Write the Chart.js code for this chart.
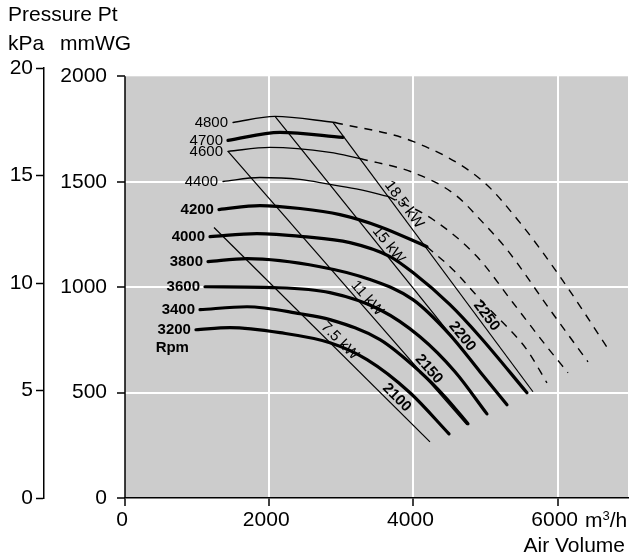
<!DOCTYPE html>
<html>
<head>
<meta charset="utf-8">
<script src="https://cdn.jsdelivr.net/npm/chart.js@4.4.1/dist/chart.umd.min.js"></script>
<style>
  html, body { margin: 0; padding: 0; background: #fff; }
  #wrap { position: relative; width: 629px; height: 560px; font-family: "Liberation Sans", Arial, sans-serif; color: #000; }
  #fanChart { position: absolute; left: 0; top: 0; }
  .t { position: absolute; font-size: 21px; line-height: 21px; white-space: nowrap; }
</style>
</head>
<body>
<div id="wrap">
  <canvas id="fanChart" width="629" height="560"></canvas>
  <span class="t" style="left:8px;top:3px">Pressure Pt</span>
  <span class="t" style="left:8px;top:32px">kPa</span>
  <span class="t" style="left:60px;top:32px">mmWG</span>
  <span class="t" style="left:585px;top:509px">m<sup style="font-size:13px;vertical-align:7px;line-height:0">3</sup>/h</span>
  <span class="t" style="right:4px;top:534px">Air Volume</span>
</div>
<script>
const FONT = "'Liberation Sans', Arial, Helvetica, sans-serif";

const xTicks = [0, 2000, 4000, 6000];
const mmwgTicks = [0, 500, 1000, 1500, 2000];
const kpaTicks = [0, 5, 10, 15, 20];

// fan curves: [air volume m3/h, pressure mmWG]
const rpm3200 = [[984, 798], [1456, 808], [2149, 784], [2842, 736], [3356, 656], [3952, 499], [4493, 304]];
const rpm3400 = [[1040, 893], [1692, 907], [2427, 874], [2842, 846], [3536, 751], [4090, 599], [4437, 480], [4756, 352]];
const rpm3600 = [[1109, 1002], [2052, 998], [2842, 974], [3536, 893], [4090, 765], [4576, 599], [5019, 399]];
const rpm3800 = [[1151, 1121], [1692, 1135], [2704, 1097], [3397, 1036], [3993, 941], [4506, 774], [4922, 599], [5297, 442]];
const rpm4000 = [[1179, 1240], [1830, 1254], [2468, 1240], [3120, 1211], [3675, 1145], [3993, 1069], [4506, 917], [4922, 765], [5574, 499]];
const rpm4200 = [[1303, 1368], [1872, 1387], [2427, 1373], [2981, 1344], [3536, 1287], [4187, 1192]];
const rpm4400 = [[1359, 1501], [1872, 1520], [2427, 1511], [2842, 1487], [3258, 1463], [3647, 1430]];
const rpm4600 = [[1428, 1644], [2011, 1663], [2842, 1639], [3258, 1610]];
const rpm4700 = [[1428, 1696], [2149, 1734], [3023, 1710]];
const rpm4800 = [[1498, 1781], [2080, 1810], [2912, 1781]];

const rpmLabels = ['3200', '3400', '3600', '3800', '4000', '4200', '4400', '4600', '4700', '4800'];
const rpmCurves = [rpm3200, rpm3400, rpm3600, rpm3800, rpm4000, rpm4200, rpm4400, rpm4600, rpm4700, rpm4800];
const thinCurves = ['4400', '4600', '4800'];

// dashed continuations past the 18.5 kW line
const dash4200 = [[4187, 1192], [4548, 1083], [5019, 907], [5297, 812], [5574, 703], [5851, 546]];
const dash4400 = [[3647, 1430], [4271, 1321], [4881, 1145], [5380, 926], [5851, 717], [6143, 594]];
const dash4600 = [[3258, 1610], [3993, 1544], [4576, 1439], [4964, 1306], [5297, 1178], [5893, 893], [6420, 646]];
const dash4800 = [[2912, 1781], [3993, 1691], [4950, 1506], [5477, 1306], [6032, 1050], [6725, 694]];
const dashCurves = [dash4200, dash4400, dash4600, dash4800];

// motor power lines
const kw75 = [[1234, 1283], [4229, 266]];
const kw11 = [[1428, 1644], [4742, 347]];
const kw15 = [[2080, 1810], [5297, 442]];
const kw185 = [[2884, 1781], [5657, 504]];
const kwLines = [kw75, kw11, kw15, kw185];
const kwLabels = ['7.5 kW', '11 kW', '15 kW', '18.5 kW'];
const limitLabels = ['2100', '2150', '2200', '2250'];
const kwLabelAt = [0.556, 0.557, 0.463, 0.323];
const limitLabelAt = [0.82, 0.815, 0.78, 0.736];

const toPts = arr => arr.map(([x, y]) => ({ x, y }));

const datasets = [];
rpmCurves.forEach((c, i) => {
  const thin = thinCurves.includes(rpmLabels[i]);
  datasets.push({
    data: toPts(c), showLine: true, borderColor: '#000',
    borderWidth: thin ? 1.3 : 3.2, pointRadius: 0,
    cubicInterpolationMode: 'monotone', borderCapStyle: 'round'
  });
});
dashCurves.forEach(c => {
  datasets.push({
    data: toPts(c), showLine: true, borderColor: '#000', borderWidth: 1.4,
    borderDash: [8, 7], pointRadius: 0, cubicInterpolationMode: 'monotone'
  });
});
kwLines.forEach(c => {
  datasets.push({
    data: toPts(c), showLine: true, borderColor: '#000', borderWidth: 1.2,
    pointRadius: 0, tension: 0
  });
});

const overlay = {
  id: 'overlay',
  beforeDraw(chart) {
    const { ctx, chartArea: a, scales: { y } } = chart;
    const top = y.getPixelForValue(mmwgTicks[mmwgTicks.length - 1]);
    ctx.save();
    ctx.fillStyle = '#cccccc';
    ctx.fillRect(a.left, top, a.right - a.left, y.getPixelForValue(0) - top);
    ctx.restore();
  },
  beforeDatasetsDraw(chart) {
    const { ctx, chartArea: a, scales: { y } } = chart;
    ctx.save();
    ctx.strokeStyle = '#000';
    ctx.lineWidth = 1.5;
    ctx.beginPath();
    ctx.moveTo(a.left, y.getPixelForValue(mmwgTicks[mmwgTicks.length - 1]));
    ctx.lineTo(a.left, y.getPixelForValue(0));
    ctx.stroke();
    ctx.restore();
  },
  afterDatasetsDraw(chart) {
    const { ctx, scales: { x, y } } = chart;
    ctx.save();
    ctx.fillStyle = '#000';
    ctx.textAlign = 'right';
    ctx.textBaseline = 'middle';
    rpmCurves.forEach((c, i) => {
      const bold = Number(rpmLabels[i]) <= 4200;
      ctx.font = (bold ? 'bold ' : '') + '15px ' + FONT;
      ctx.fillText(rpmLabels[i], x.getPixelForValue(c[0][0]) - 5, y.getPixelForValue(c[0][1]));
    });
    ctx.font = 'bold 15px ' + FONT;
    ctx.fillText('Rpm', x.getPixelForValue(rpm3200[0][0]) - 7, y.getPixelForValue(rpm3200[0][1]) + 18);

    ctx.textAlign = 'center';
    kwLines.forEach((line, i) => {
      const x0 = x.getPixelForValue(line[0][0]), y0 = y.getPixelForValue(line[0][1]);
      const x1 = x.getPixelForValue(line[1][0]), y1 = y.getPixelForValue(line[1][1]);
      const dx = x1 - x0, dy = y1 - y0, len = Math.hypot(dx, dy);
      const nx = dy / len, ny = -dx / len;
      const ang = Math.atan2(dy, dx);
      [[kwLabels[i], kwLabelAt[i], '15px '], [limitLabels[i], limitLabelAt[i], 'bold 15px ']].forEach(([txt, t, f]) => {
        ctx.save();
        ctx.translate(x0 + dx * t + nx * 8, y0 + dy * t + ny * 8);
        ctx.rotate(ang);
        ctx.font = f + FONT;
        ctx.fillText(txt, 0, 0);
        ctx.restore();
      });
    });
    ctx.restore();
  }
};

const tickFont = { family: FONT, size: 21 };

new Chart(document.getElementById('fanChart'), {
  type: 'scatter',
  data: { datasets },
  options: {
    responsive: false,
    animation: false,
    events: [],
    layout: { padding: { top: 68, right: 1, left: 0, bottom: 0 } },
    plugins: { legend: { display: false }, tooltip: { enabled: false } },
    scales: {
      x: {
        type: 'linear', position: 'bottom', min: 0, max: 6975,
        afterBuildTicks: s => { s.ticks = xTicks.map(v => ({ value: v })); },
        afterFit: s => { s.height = 62; },
        grid: {
          color: c => (c.tick && c.tick.value === 0) ? 'rgba(0,0,0,0)' : '#ffffff',
          lineWidth: 2, tickColor: '#000', tickWidth: 1.5, tickLength: 8
        },
        border: { display: true, color: '#000', width: 1.5 },
        ticks: { color: '#000', font: tickFont, padding: 2, maxRotation: 0, labelOffset: -3, callback: v => String(v) }
      },
      y: {
        type: 'linear', position: 'left', weight: 0, min: 0, max: 2039.4,
        afterBuildTicks: s => { s.ticks = mmwgTicks.map(v => ({ value: v })); },
        afterFit: s => { s.width = 81; },
        grid: {
          color: c => (c.tick && (c.tick.value === 0 || c.tick.value === 2000)) ? 'rgba(0,0,0,0)' : '#ffffff',
          lineWidth: 2, tickColor: '#000', tickWidth: 1.5, tickLength: 8
        },
        border: { display: false },
        ticks: { color: '#000', font: tickFont, padding: 10, callback: v => String(v) }
      },
      kpa: {
        type: 'linear', position: 'left', weight: 1, min: 0, max: 20,
        afterBuildTicks: s => { s.ticks = kpaTicks.map(v => ({ value: v })); },
        afterFit: s => { s.width = 44; },
        grid: { drawOnChartArea: false, tickColor: '#000', tickWidth: 1.5, tickLength: 8 },
        border: { display: true, color: '#000', width: 1.5 },
        ticks: { color: '#000', font: tickFont, padding: 3, callback: v => String(v) }
      }
    }
  },
  plugins: [overlay]
});
</script>
</body>
</html>
